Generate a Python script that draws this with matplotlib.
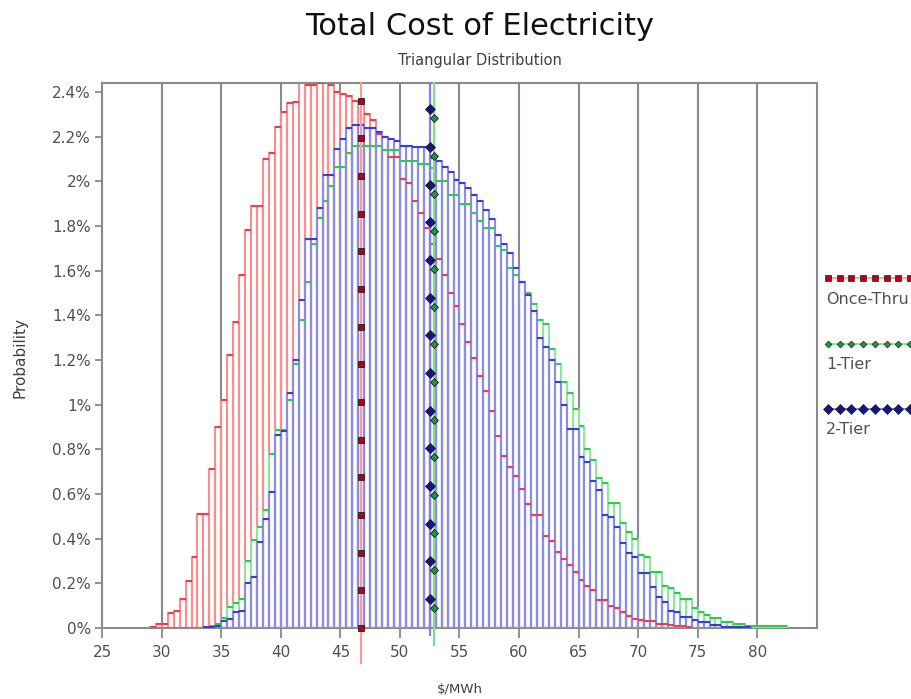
import matplotlib.pyplot as plt
from matplotlib.lines import Line2D
import numpy as np

plt.rcParams['font.family'] = ['DejaVu Sans']

# bin width of the cost histograms ($/MWh), probabilities are in percent
bin_w = 0.5

once_start = 29.0
once_prob = [0.006, 0.018, 0.018, 0.066, 0.076, 0.13, 0.21, 0.32, 0.51, 0.51,
             0.71, 0.90, 1.02, 1.22, 1.37, 1.58, 1.78, 1.89, 1.89, 2.10,
             2.125, 2.245, 2.31, 2.35, 2.357, 2.46, 2.43, 2.43, 2.44, 2.46,
             2.43, 2.40, 2.39, 2.38, 2.36, 2.36, 2.30, 2.275, 2.21, 2.20,
             2.11, 2.11, 2.01, 1.99, 1.91, 1.86, 1.79, 1.72, 1.65, 1.58,
             1.50, 1.44, 1.36, 1.28, 1.21, 1.13, 1.06, 0.97, 0.86, 0.77,
             0.72, 0.68, 0.62, 0.555, 0.506, 0.506, 0.41, 0.39, 0.34, 0.31,
             0.28, 0.25, 0.215, 0.19, 0.17, 0.125, 0.125, 0.098, 0.089, 0.073,
             0.054, 0.04, 0.035, 0.03, 0.03, 0.02, 0.02, 0.015, 0.01, 0.01,
             0.005]

tier1_start = 34.0
tier1_prob = [0.01, 0.02, 0.045, 0.095, 0.11, 0.13, 0.30, 0.395, 0.45, 0.53,
              0.78, 0.887, 0.887, 1.02, 1.18, 1.38, 1.55, 1.72, 1.835, 1.91,
              1.98, 2.065, 2.065, 2.125, 2.16, 2.16, 2.16, 2.16, 2.16, 2.14,
              2.14, 2.14, 2.09, 2.09, 2.09, 2.075, 2.075, 2.06, 2.0, 2.0,
              1.94, 1.94, 1.90, 1.90, 1.86, 1.82, 1.79, 1.79, 1.71, 1.69,
              1.61, 1.58, 1.55, 1.50, 1.45, 1.38, 1.36, 1.25, 1.18, 1.10,
              1.05, 0.98, 0.905, 0.80, 0.75, 0.67, 0.65, 0.56, 0.56, 0.47,
              0.43, 0.40, 0.327, 0.32, 0.25, 0.25, 0.19, 0.18, 0.157, 0.13,
              0.13, 0.09, 0.07, 0.058, 0.045, 0.045, 0.027, 0.027, 0.018, 0.018,
              0.009, 0.009, 0.009, 0.009, 0.009, 0.009, 0.009]

tier2_start = 33.5
tier2_prob = [0.006, 0.006, 0.01, 0.03, 0.04, 0.073, 0.075, 0.20, 0.23, 0.385,
              0.49, 0.61, 0.865, 0.88, 1.05, 1.20, 1.47, 1.74, 1.74, 1.88,
              2.03, 2.03, 2.145, 2.19, 2.24, 2.25, 2.25, 2.24, 2.24, 2.22,
              2.20, 2.19, 2.18, 2.16, 2.16, 2.155, 2.155, 2.155, 2.105, 2.09,
              2.066, 2.04, 2.006, 1.99, 1.97, 1.94, 1.91, 1.87, 1.83, 1.76,
              1.72, 1.68, 1.61, 1.55, 1.49, 1.42, 1.30, 1.26, 1.20, 1.10,
              1.00, 0.89, 0.89, 0.765, 0.745, 0.656, 0.618, 0.506, 0.495, 0.452,
              0.38, 0.336, 0.32, 0.246, 0.246, 0.184, 0.14, 0.117, 0.076, 0.07,
              0.05, 0.05, 0.035, 0.028, 0.028, 0.012, 0.012, 0.006, 0.006, 0.006,
              0.006, 0.006]

# mean cost of each option
names = ['Once-Thru', '1-Tier', '2-Tier']
means = [46.75, 52.9, 52.5]

x_ticks = list(range(25, 85, 5))
y_ticks = [round(0.2 * i, 1) for i in range(13)]

bar_cols = ['#ff8c8c', '#8ce8a0', '#8c8ce6']
top_cols = ['#f03c50', '#32c850', '#3c3cd2']
mark_face = ['#b4001e', '#1e963c', '#14148c']
mark_shape = ['s', 'D', 'D']
mark_size = [5, 3.8, 5.2]
line_cols = ['#ff9a9a', '#7ee08e', '#8080e8']
line_low = [-0.157, -0.076, -0.03]
mark_off = [0.0, 0.0896, 0.130]
mark_step = 0.1686

fig = plt.figure(figsize=(9.11, 6.99), dpi=100)
ax = fig.add_axes([0.1122, 0.1016, 0.7843, 0.7797])

ax.set_xlim(25, 85)
ax.set_ylim(0, 2.44)

for xt in x_ticks[1:]:
    ax.axvline(xt, color='#8a8a8a', lw=1.5, zorder=0)

series = [(once_start, once_prob), (tier1_start, tier1_prob), (tier2_start, tier2_prob)]
for i, (start, probs) in enumerate(series):
    lefts = start + bin_w * np.arange(len(probs))
    ax.bar(lefts, probs, width=bin_w, align='edge', fill=False,
           edgecolor=bar_cols[i], linewidth=1.5, zorder=2 + i)
for i, (start, probs) in enumerate(series):
    lefts = start + bin_w * np.arange(len(probs))
    ax.hlines(probs, lefts, lefts + bin_w, colors=top_cols[i], lw=1.5, zorder=5 + i)

# mean lines with marker dots
for i, m in enumerate(means):
    ax.plot([m, m], [line_low[i], 2.44], color=line_cols[i], lw=1.6,
            clip_on=False, zorder=8)
    ys = np.arange(mark_off[i], 2.40, mark_step)
    ax.plot(np.full(len(ys), m), ys, ls='none', marker=mark_shape[i],
            ms=mark_size[i], mfc=mark_face[i], mec='#202020', mew=0.6,
            clip_on=False, zorder=9)

ax.set_xticks(x_ticks)
ax.set_yticks(y_ticks)
ax.set_yticklabels(['{:g}%'.format(v) for v in y_ticks])
ax.tick_params(axis='x', direction='out', length=7, width=1.2, color='#808080',
               labelsize=11, labelcolor='#505050', pad=5)
ax.tick_params(axis='y', direction='out', length=5, width=1.2, color='#808080',
               labelsize=11, labelcolor='#505050', pad=3)
for sp in ax.spines.values():
    sp.set_color('#8a8a8a')
    sp.set_linewidth(1.5)

fig.text(0.526, 0.962, 'Total Cost of Electricity', ha='center', va='center',
         fontsize=22, color='#101010')
fig.text(0.527, 0.914, 'Triangular Distribution', ha='center', va='center',
         fontsize=10.5, color='#404040')
fig.text(0.505, 0.013, '\\$/MWh', ha='center', va='center', fontsize=9.5,
         color='#404040')
fig.text(0.022, 0.488, 'Probability', ha='center', va='center', rotation=90,
         fontsize=11, color='#404040')

# legend on the right edge
leg_y = [0.602, 0.508, 0.415]
for i, name in enumerate(names):
    xs = np.arange(828, 920, 11.7) / 911
    fig.add_artist(Line2D(xs, [leg_y[i]] * len(xs), transform=fig.transFigure,
                          color=line_cols[i], lw=1.3, marker=mark_shape[i],
                          ms=mark_size[i] * 0.9, mfc=mark_face[i], mec='#202020',
                          mew=0.5))
    fig.text(826 / 911, leg_y[i] - 0.03, name, ha='left', va='center',
             fontsize=11.5, color='#505050')

fig.savefig('out.png', dpi=100)
